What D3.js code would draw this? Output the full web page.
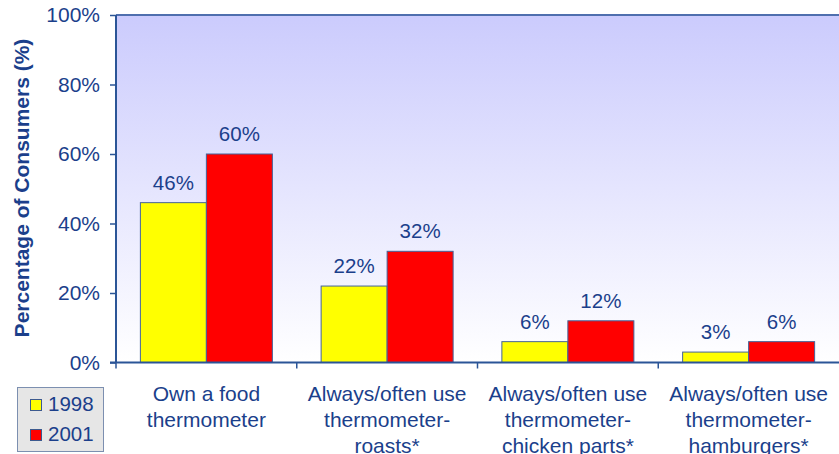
<!DOCTYPE html>
<html>
<head>
<meta charset="utf-8">
<script src="https://cdn.jsdelivr.net/npm/d3@7"></script>
<style>
  html, body { margin: 0; padding: 0; background: #fff; }
  svg { display: block; font-family: "Liberation Sans", Arial, sans-serif; }
</style>
</head>
<body>
<svg id="chart" width="839" height="454"></svg>
<script>
// Survey results: share of consumers, by year
const categories = [
  ["Own a food", "thermometer"],
  ["Always/often use", "thermometer-", "roasts*"],
  ["Always/often use", "thermometer-", "chicken parts*"],
  ["Always/often use", "thermometer-", "hamburgers*"]
];
const years = ["1998", "2001"];
const values1998 = [46, 22, 6, 3];
const values2001 = [60, 32, 12, 6];
const yTicks = [0, 20, 40, 60, 80, 100];
const seriesColors = ["#ffff00", "#ff0000"];

const textColor = "#1b3f8b";
const axisColor = "#2b5597";

const svg = d3.select("#chart");
const plot = { left: 116, top: 15, right: 839, bottom: 362.5 };

const x0 = d3.scaleBand()
  .domain(d3.range(categories.length))
  .range([plot.left, plot.right])
  .padding(0);
// each pair of bars sits in the middle of its category slot
const barW = 66;
const x1 = d3.scaleBand()
  .domain(years)
  .range([(x0.bandwidth() - 2 * barW) / 2, (x0.bandwidth() + 2 * barW) / 2])
  .padding(0);
const y = d3.scaleLinear().domain([0, 100]).range([plot.bottom, plot.top]);

// plot background: lavender fading to white
const defs = svg.append("defs");
const grad = defs.append("linearGradient")
  .attr("id", "bg").attr("x1", 0).attr("y1", 0).attr("x2", 0).attr("y2", 1);
grad.append("stop").attr("offset", "0%").attr("stop-color", "#cbcbfd");
grad.append("stop").attr("offset", "100%").attr("stop-color", "#ffffff");

svg.append("rect")
  .attr("x", plot.left).attr("y", plot.top)
  .attr("width", plot.right - plot.left).attr("height", plot.bottom - plot.top)
  .attr("fill", "url(#bg)");

// top border of the plot area
svg.append("line")
  .attr("x1", plot.left).attr("x2", plot.right)
  .attr("y1", plot.top).attr("y2", plot.top)
  .attr("stroke", "#4f6fae").attr("stroke-width", 2);

// bars
const series = [values1998, values2001];
const groups = svg.append("g").selectAll("g")
  .data(categories.map((c, i) => i))
  .join("g")
  .attr("transform", i => `translate(${x0(i)},0)`);

groups.selectAll("rect")
  .data(i => years.map((yr, s) => ({ yr, s, v: series[s][i] })))
  .join("rect")
  .attr("x", d => x1(d.yr))
  .attr("y", d => y(d.v))
  .attr("width", x1.bandwidth())
  .attr("height", d => y(0) - y(d.v))
  .attr("fill", d => seriesColors[d.s])
  .attr("stroke", "#44639a")
  .attr("stroke-width", 1);

groups.selectAll("text")
  .data(i => years.map((yr, s) => ({ yr, s, v: series[s][i] })))
  .join("text")
  .attr("x", d => x1(d.yr) + x1.bandwidth() / 2)
  .attr("y", d => y(d.v) - 13)
  .attr("text-anchor", "middle")
  .attr("font-size", 20.5)
  .attr("fill", textColor)
  .text(d => d.v + "%");

// y axis
const yAxis = svg.append("g")
  .attr("transform", `translate(${plot.left},0)`)
  .call(d3.axisLeft(y).tickValues(yTicks).tickFormat(d => d + "%").tickSize(6).tickPadding(10));
yAxis.select(".domain").attr("stroke", axisColor).attr("stroke-width", 2)
  .attr("d", `M0,${plot.top}V${plot.bottom}`);
yAxis.selectAll(".tick line").attr("stroke", axisColor).attr("stroke-width", 1.5);
yAxis.selectAll(".tick text")
  .attr("font-size", 21).attr("fill", textColor)
  .attr("font-family", "Liberation Sans, Arial, sans-serif");

// x axis with category separators
const xAxis = svg.append("g")
  .attr("transform", `translate(0,${plot.bottom})`);
xAxis.append("line")
  .attr("x1", plot.left - 6).attr("x2", plot.right)
  .attr("stroke", axisColor).attr("stroke-width", 2);
xAxis.selectAll("line.sep")
  .data(d3.range(categories.length))
  .join("line")
  .attr("class", "sep")
  .attr("x1", i => x0(i)).attr("x2", i => x0(i))
  .attr("y1", 0).attr("y2", 6)
  .attr("stroke", axisColor).attr("stroke-width", 1.5);

// category labels
const catLabels = svg.append("g").selectAll("text")
  .data(categories.map((lines, i) => ({ lines, i })))
  .join("text")
  .attr("text-anchor", "middle")
  .attr("font-size", 21)
  .attr("fill", textColor);
catLabels.each(function (d) {
  const t = d3.select(this);
  d.lines.forEach((ln, k) => {
    t.append("tspan")
      .attr("x", x0(d.i) + x0.bandwidth() / 2)
      .attr("y", 400.5 + k * 26)
      .text(ln);
  });
});

// y axis title
svg.append("text")
  .attr("transform", `translate(29,188) rotate(-90)`)
  .attr("text-anchor", "middle")
  .attr("font-size", 21)
  .attr("font-weight", "bold")
  .attr("fill", textColor)
  .text("Percentage of Consumers (%)");

// legend
const legend = svg.append("g");
legend.append("rect")
  .attr("x", 17.5).attr("y", 387.5).attr("width", 86).attr("height", 64)
  .attr("fill", "#e6e6e6").attr("stroke", "#7c8fb0").attr("stroke-width", 1);
years.forEach((yr, s) => {
  legend.append("rect")
    .attr("x", 30.5).attr("y", 399.5 + s * 30).attr("width", 11).attr("height", 11)
    .attr("fill", seriesColors[s]).attr("stroke", "#3d5a8f").attr("stroke-width", 1);
  legend.append("text")
    .attr("x", 48).attr("y", 411 + s * 30)
    .attr("font-size", 20.5)
    .attr("fill", textColor)
    .text(yr);
});
</script>
</body>
</html>
